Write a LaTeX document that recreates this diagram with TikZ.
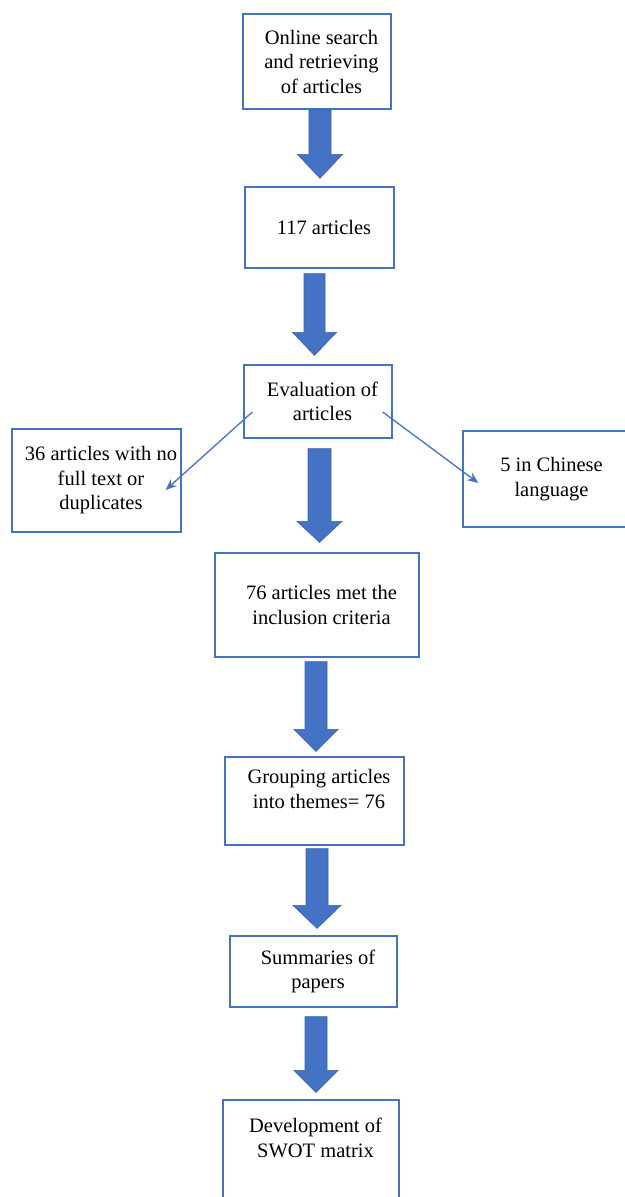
\documentclass[tikz,border=0pt]{standalone}
\usepackage{fontspec}
\setmainfont{Liberation Serif}
\usetikzlibrary{arrows.meta,calc}
\definecolor{wblue}{HTML}{4472C4}
\newcommand\indsp{\hspace*{9pt}}
% #1 start, #2 end, #3 half shaft width, #4 half head width, #5 head length
\newcommand\fatarr[5]{%
  \path[fatarrow] let \p1=#1, \p2=#2 in
    (\x1-#3,\y1) -- (\x1+#3,\y1) -- (\x1+#3,\y2+#5) -- (\x1+#4,\y2+#5)
    -- (\x1,\y2) -- (\x1-#4,\y2+#5) -- (\x1-#3,\y2+#5) -- cycle;}
\begin{document}
\begin{tikzpicture}[x=1pt,y=-1pt,
  box/.style={draw=wblue,line width=1.3pt,align=center,inner sep=2pt,
    font=\fontsize{20.5}{24.5}\selectfont},
  thinarrow/.style={draw=wblue,line width=1.3pt,-{Stealth[length=11pt,width=9pt]}},
  fatarrow/.style={fill=wblue,draw=wblue!85!black,line width=0.6pt}]
\useasboundingbox[fill=white] (0,0) rectangle (624,1197);
\node[box,minimum width=148pt,minimum height=95pt] (b1) at (317,61.5)
  {\indsp Online search\\\indsp and retrieving\\\indsp of articles};
\node[box,minimum width=149pt,minimum height=81pt] (b2) at (319.5,227.5)
  {\indsp 117 articles};
\node[box,minimum width=148pt,minimum height=73pt] (b3) at (318,401.5)
  {\indsp Evaluation of\\\indsp articles};
\node[box,minimum width=169pt,minimum height=103pt] (lb) at (96.5,480.5)
  {\indsp 36 articles with no\\\indsp full text or\\\indsp duplicates};
\node[box,minimum width=177pt,minimum height=96pt] (rb) at (551.5,479)
  {5 in Chinese\\language};
\node[box,minimum width=204pt,minimum height=104pt] (b4) at (317,605)
  {\indsp 76 articles met the\\\indsp inclusion criteria};
\node[box,minimum width=179pt,minimum height=88pt] (b5) at (314.5,801)
  {\indsp Grouping articles\\\indsp into themes= 76\\\mbox{}};
\node[box,minimum width=167pt,minimum height=71pt] (b6) at (313.5,971.5)
  {\indsp Summaries of\\\indsp papers};
\node[box,minimum width=176pt,minimum height=100pt] (b7) at (311,1150)
  {\indsp Development of\\\indsp SWOT matrix\\\mbox{}};
% fat arrows
\fatarr{([xshift=3pt]b1.south)}{([yshift=8pt]b2.north)}{11pt}{22.5pt}{24pt}
\fatarr{([xshift=-5pt,yshift=-5pt]b2.south)}{([yshift=9pt]b3.north)}{10.5pt}{22pt}{23pt}
\fatarr{([xshift=1.5pt,yshift=-10pt]b3.south)}{([yshift=10pt]b4.north)}{11.5pt}{22.5pt}{21pt}
\fatarr{([xshift=-1pt,yshift=-4pt]b4.south)}{([yshift=5pt]b5.north)}{11pt}{22pt}{22pt}
\fatarr{([xshift=2.5pt,yshift=-3pt]b5.south)}{([yshift=7pt]b6.north)}{11pt}{24pt}{23pt}
\fatarr{([xshift=2.5pt,yshift=-9pt]b6.south)}{([yshift=7pt]b7.north)}{11pt}{22pt}{22pt}
% thin arrows
\draw[thinarrow] ([xshift=9pt,yshift=-10.5pt]b3.west) -- ([xshift=-16pt,yshift=-9.5pt]lb.east);
\draw[thinarrow] ([xshift=-10pt,yshift=-10.5pt]b3.east) -- ([xshift=16pt,yshift=-4pt]rb.west);
\end{tikzpicture}
\end{document}
